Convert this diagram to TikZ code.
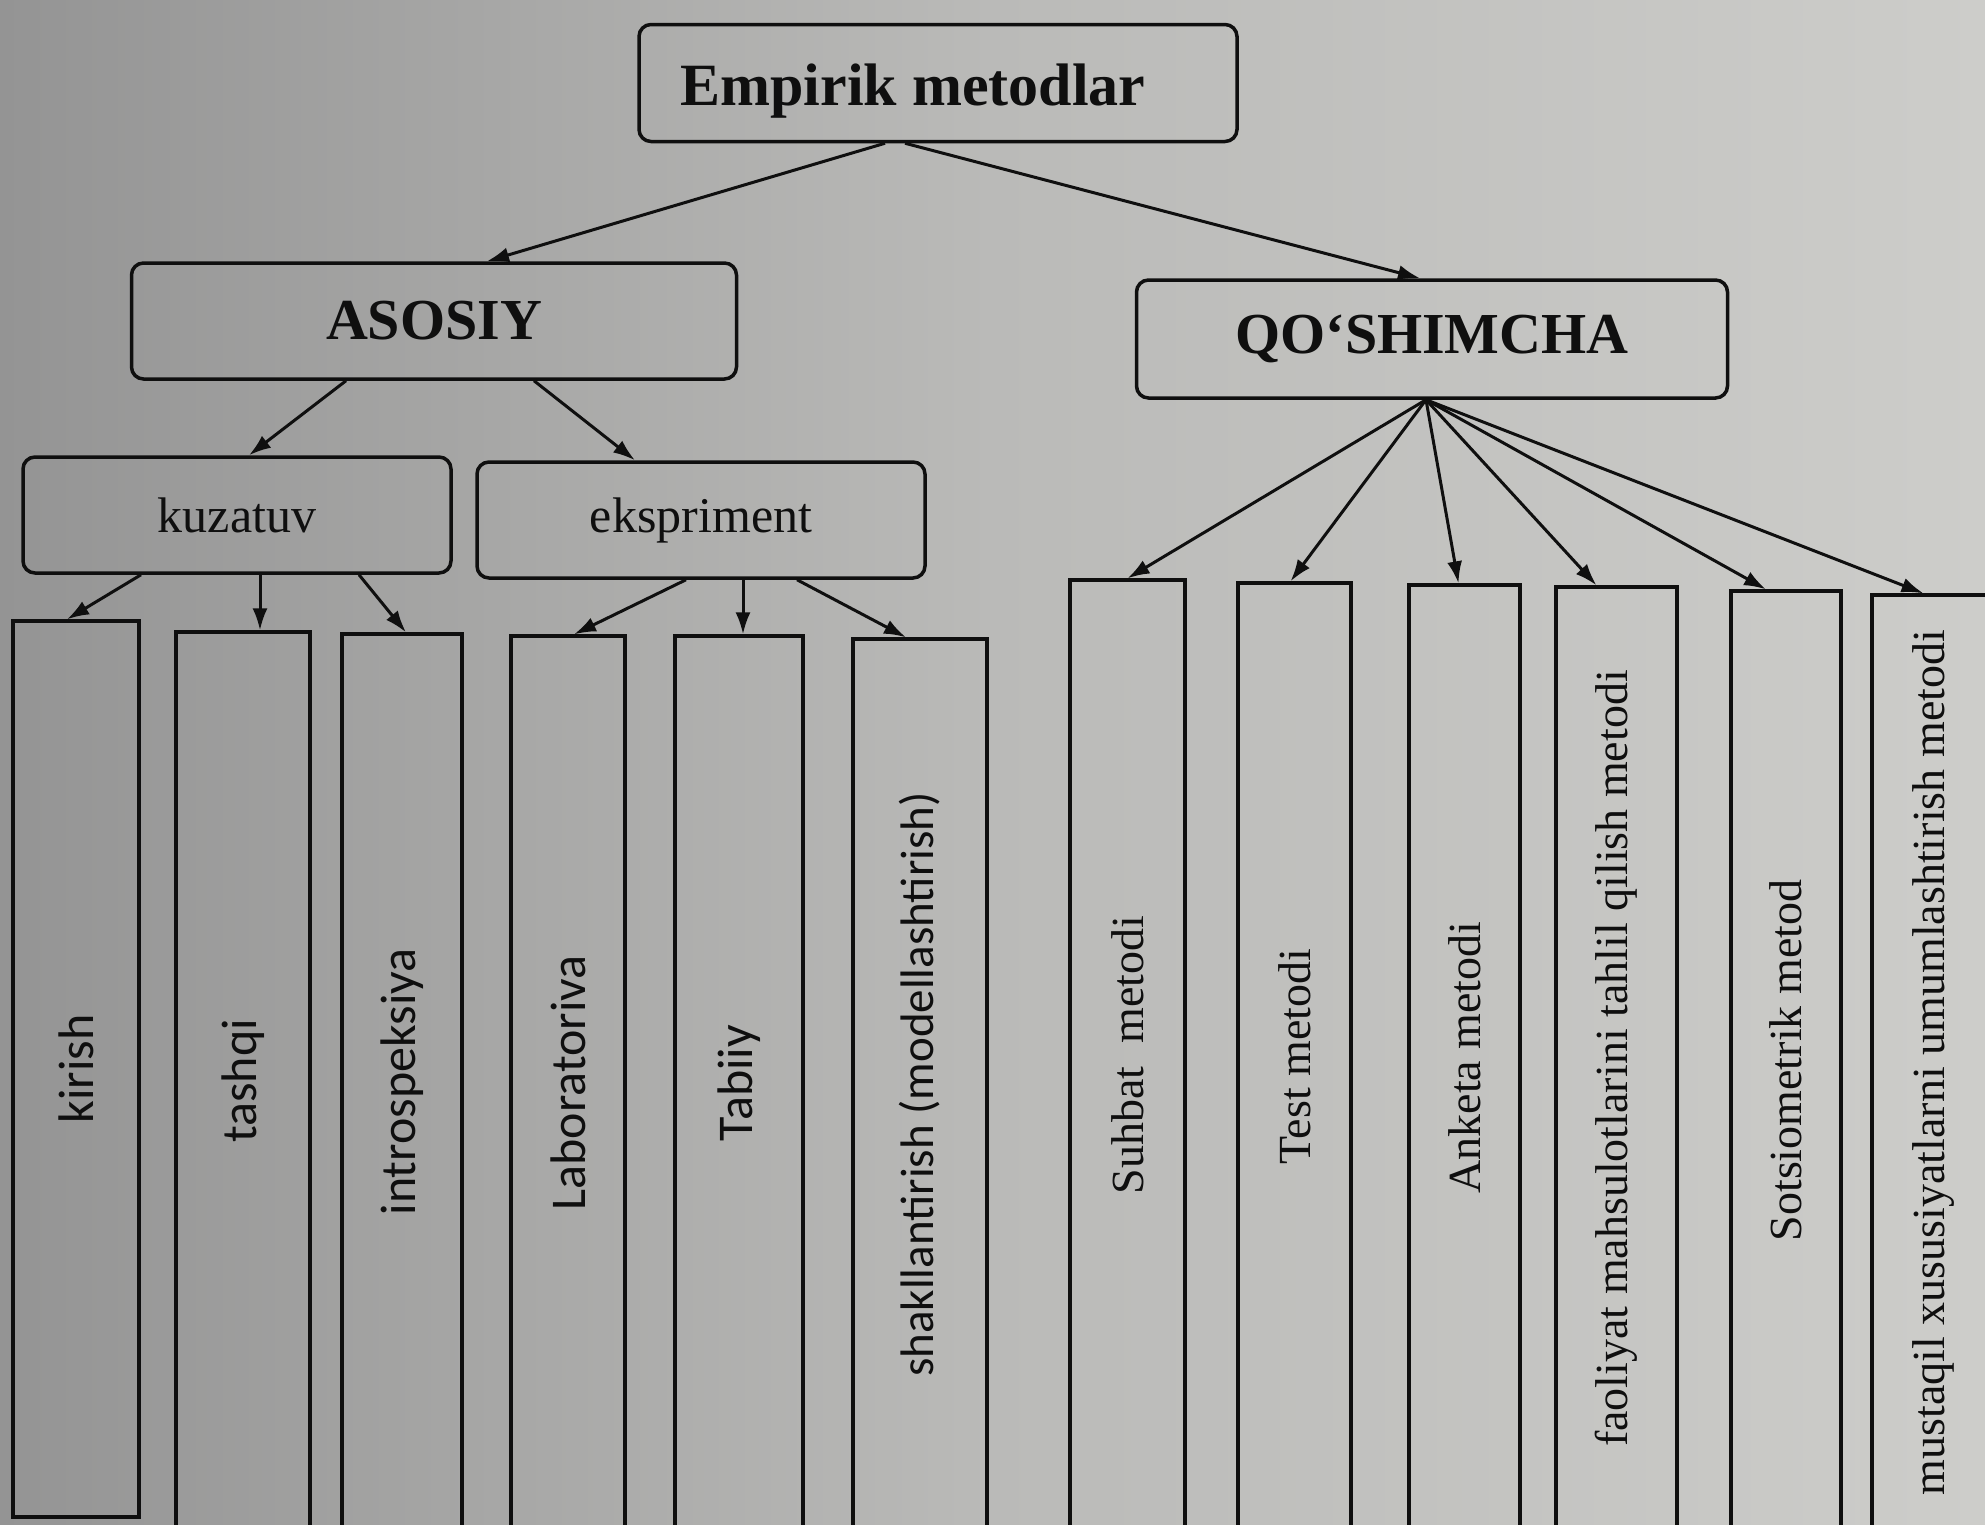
\documentclass[tikz,border=0pt]{standalone}
\usepackage{fontspec}
\setmainfont{Liberation Serif}
\newfontfamily\sansc{Carlito}
\usetikzlibrary{arrows.meta}
\definecolor{bgL}{RGB}{148,148,148}
\definecolor{bgM}{RGB}{186,186,184}
\definecolor{bgR}{RGB}{205,205,202}
\definecolor{ink}{RGB}{15,15,15}
\begin{document}
\begin{tikzpicture}[x=1pt,y=-1pt,
  topbox/.style={draw=ink, line width=3.5pt, rounded corners=12pt, inner sep=0pt, text=ink},
  tallbox/.style={draw=ink, line width=3.3pt, inner sep=0pt, text=ink},
  lefttxt/.style={font=\sansc\fontsize{50}{56}\selectfont},
  righttxt/.style={font=\fontsize{46}{52}\selectfont},
  arr/.style={draw=ink, line width=3pt, -{Latex[length=22pt,width=15pt]}}]
\useasboundingbox (0,0) rectangle (1985,1524);
\clip (0,0) rectangle (1985,1524);
\shade[left color=bgL, right color=bgR, middle color=bgM] (0,0) rectangle (1985,1524);

% top levels
\node[topbox, minimum width=598pt, minimum height=117pt, text height=57pt, text depth=13pt, font=\fontsize{60}{66}\selectfont\bfseries] (emp) at (938,83) {Empirik metodlar\kern50pt};
\node[topbox, minimum width=605pt, minimum height=116pt, font=\fontsize{58}{64}\selectfont\bfseries] (aso) at (434,321) {ASOSIY};
\node[topbox, minimum width=591pt, minimum height=118pt, font=\fontsize{58}{64}\selectfont\bfseries] (qos) at (1432,339) {QO‘SHIMCHA};
\node[topbox, minimum width=428pt, minimum height=116pt, font=\fontsize{50}{56}\selectfont] (kuz) at (237,515) {kuzatuv};
\node[topbox, minimum width=448pt, minimum height=116pt, font=\fontsize{50}{56}\selectfont] (eks) at (701,520) {ekspriment};

% tall boxes
\node[tallbox, lefttxt, minimum width=126pt, minimum height=896pt] (kir) at (76,1069) {\rotatebox{90}{kirish}};
\node[tallbox, lefttxt, minimum width=134pt, minimum height=898pt] (tas) at (243,1081) {\rotatebox{90}{tashqi}};
\node[tallbox, lefttxt, minimum width=120pt, minimum height=896pt] (int) at (402,1082) {\rotatebox{90}{introspeksiya}};
\node[tallbox, lefttxt, minimum width=114pt, minimum height=894pt] (lab) at (568,1083) {\rotatebox{90}{Laboratoriva}};
\node[tallbox, lefttxt, minimum width=128pt, minimum height=894pt] (tab) at (739,1083) {\rotatebox{90}{Tabiiy}};
\node[tallbox, lefttxt, minimum width=134pt, minimum height=891pt, font=\sansc\fontsize{47}{52}\selectfont] (sha) at (920,1084.5) {\rotatebox{90}{shakllantirish (modellashtirish)}};
\node[tallbox, righttxt, minimum width=115pt, minimum height=950pt] (suh) at (1127.5,1055) {\rotatebox{90}{Suhbat\ \ metodi}};
\node[tallbox, righttxt, minimum width=113pt, minimum height=947pt] (tes) at (1294.5,1056.5) {\rotatebox{90}{Test metodi}};
\node[tallbox, righttxt, minimum width=111pt, minimum height=945pt] (ank) at (1464.5,1057.5) {\rotatebox{90}{Anketa metodi}};
\node[tallbox, righttxt, minimum width=121pt, minimum height=943pt] (fao) at (1616.5,1058.5) {\rotatebox{90}{faoliyat mahsulotlarini tahlil qilish metodi}};
\node[tallbox, righttxt, minimum width=110pt, minimum height=939pt] (sot) at (1786,1060.5) {\rotatebox{90}{Sotsiometrik metod}};
\node[tallbox, righttxt, minimum width=123pt, minimum height=935pt] (mus) at (1933.5,1062.5) {\rotatebox{90}{mustaqil xususiyatlarni umumlashtirish metodi}};

% connectors
\draw[arr] ([xshift=-53pt]emp.south) -- ([xshift=53pt]aso.north);
\draw[arr] ([xshift=-33pt]emp.south) -- ([xshift=-12pt]qos.north);
\draw[arr] ([xshift=-88pt]aso.south) -- ([xshift=12pt]kuz.north);
\draw[arr] ([xshift=100pt]aso.south) -- ([xshift=-66pt]eks.north);
\draw[arr] ([xshift=-96pt]kuz.south) -- ([xshift=-9pt]kir.north);
\draw[arr] ([xshift=23pt]kuz.south) -- ([xshift=17pt]tas.north);
\draw[arr] ([xshift=122pt]kuz.south) -- ([xshift=4pt]int.north);
\draw[arr] ([xshift=-15pt]eks.south) -- ([xshift=6pt]lab.north);
\draw[arr] ([xshift=42pt]eks.south) -- ([xshift=4pt]tab.north);
\draw[arr] ([xshift=96pt]eks.south) -- ([xshift=-14pt]sha.north);
\coordinate (fan) at ([xshift=-6pt]qos.south);
\draw[arr] (fan) -- ([xshift=0pt]suh.north);
\draw[arr] (fan) -- ([xshift=-4pt]tes.north);
\draw[arr] (fan) -- ([xshift=-6pt]ank.north);
\draw[arr] (fan) -- ([xshift=-20pt]fao.north);
\draw[arr] (fan) -- ([xshift=-20pt]sot.north);
\draw[arr] (fan) -- ([xshift=-10pt]mus.north);
\end{tikzpicture}
\end{document}
